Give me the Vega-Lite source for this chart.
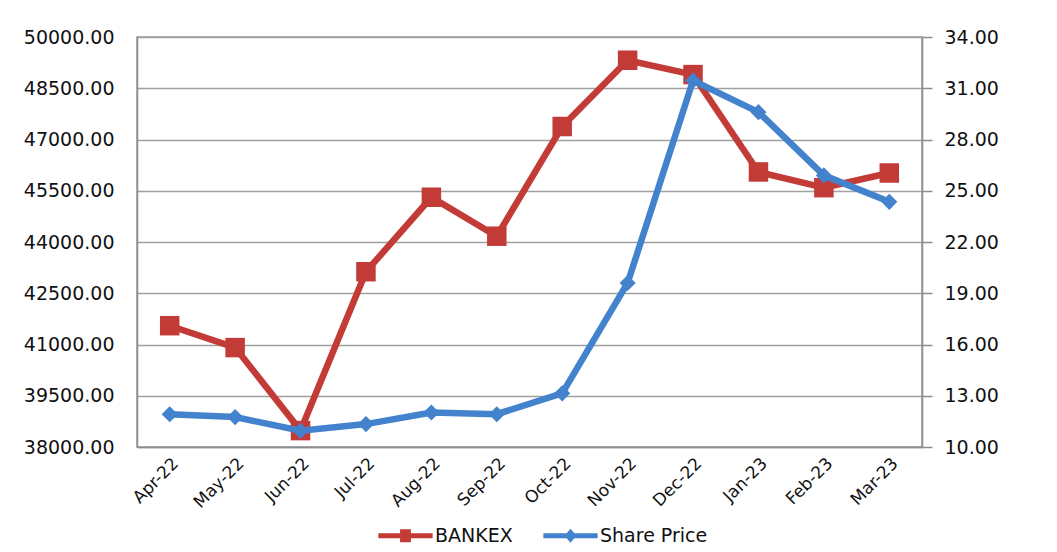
{
  "$schema": "https://vega.github.io/schema/vega-lite/v6.json",
  "width": 785,
  "height": 410,
  "autosize": {"type": "none"},
  "padding": {"left": 137, "top": 37, "right": 135, "bottom": 105},
  "background": "white",
  "config": {
    "font": "DejaVu Sans",
    "view": {"stroke": "#9a9a9a", "strokeWidth": 1.5},
    "axis": {"labelFont": "DejaVu Sans", "labelColor": "#111111", "domainColor": "#8c8c8c", "tickColor": "#8c8c8c", "gridColor": "#a0a0a0", "gridWidth": 1.3}
  },
  "data": {
    "values": [
      {"month": "Apr-22", "series": "BANKEX", "value": 41550},
      {"month": "May-22", "series": "BANKEX", "value": 40910},
      {"month": "Jun-22", "series": "BANKEX", "value": 38480},
      {"month": "Jul-22", "series": "BANKEX", "value": 43130},
      {"month": "Aug-22", "series": "BANKEX", "value": 45310},
      {"month": "Sep-22", "series": "BANKEX", "value": 44170},
      {"month": "Oct-22", "series": "BANKEX", "value": 47380},
      {"month": "Nov-22", "series": "BANKEX", "value": 49320},
      {"month": "Dec-22", "series": "BANKEX", "value": 48900},
      {"month": "Jan-23", "series": "BANKEX", "value": 46050},
      {"month": "Feb-23", "series": "BANKEX", "value": 45590},
      {"month": "Mar-23", "series": "BANKEX", "value": 46020},
      {"month": "Apr-22", "series": "Share Price", "value": 11.92},
      {"month": "May-22", "series": "Share Price", "value": 11.75},
      {"month": "Jun-22", "series": "Share Price", "value": 10.95},
      {"month": "Jul-22", "series": "Share Price", "value": 11.34},
      {"month": "Aug-22", "series": "Share Price", "value": 12.02},
      {"month": "Sep-22", "series": "Share Price", "value": 11.92},
      {"month": "Oct-22", "series": "Share Price", "value": 13.14},
      {"month": "Nov-22", "series": "Share Price", "value": 19.6},
      {"month": "Dec-22", "series": "Share Price", "value": 31.45},
      {"month": "Jan-23", "series": "Share Price", "value": 29.6},
      {"month": "Feb-23", "series": "Share Price", "value": 25.9},
      {"month": "Mar-23", "series": "Share Price", "value": 24.35}
    ]
  },
  "encoding": {
    "x": {
      "field": "month", "type": "ordinal", "sort": null,
      "scale": {"type": "point", "padding": 0.5},
      "axis": {"title": null, "labelAngle": -45, "labelFontSize": 17, "labelColor": "#111111", "ticks": false, "labelPadding": 8, "domainWidth": 1.5}
    },
    "color": {
      "field": "series", "type": "nominal",
      "scale": {"domain": ["BANKEX", "Share Price"], "range": ["#C33B37", "#4382CC"]},
      "legend": {
        "title": null, "orient": "none", "direction": "horizontal",
        "legendX": 241, "legendY": 471,
        "labelFontSize": 19, "labelColor": "#111", "labelFont": "DejaVu Sans",
        "symbolSize": 2950, "columnPadding": 30, "labelOffset": 2,
        "encode": {
          "symbols": {
            "update": {
              "shape": {"signal": "datum.value === 'BANKEX' ? 'M-1,-0.09H1V0.09H-1Z M-0.2,-0.24H0.2V0.24H-0.2Z' : 'M-1,-0.09H1V0.09H-1Z M0,-0.26L0.22,0L0,0.26L-0.22,0Z'"},
              "fill": {"scale": "color", "field": "value"},
              "stroke": {"value": null},
              "strokeWidth": {"value": 0}
            }
          }
        }
      }
    }
  },
  "layer": [
    {
      "transform": [{"filter": "datum.series === 'BANKEX'"}],
      "encoding": {
        "y": {
          "field": "value", "type": "quantitative",
          "scale": {"domain": [38000, 50000], "zero": false, "nice": false},
          "axis": {"title": null, "orient": "left", "values": [38000, 39500, 41000, 42500, 44000, 45500, 47000, 48500, 50000], "format": ".2f", "labelFontSize": 19, "grid": true, "ticks": false, "labelPadding": 23, "domainWidth": 1.5}
        }
      },
      "layer": [
        {"mark": {"type": "line", "strokeWidth": 6.5}},
        {"mark": {"type": "point", "shape": "square", "filled": true, "size": 380, "opacity": 1}}
      ]
    },
    {
      "transform": [{"filter": "datum.series === 'Share Price'"}],
      "encoding": {
        "y": {
          "field": "value", "type": "quantitative",
          "scale": {"domain": [10, 34], "zero": false, "nice": false},
          "axis": {"title": null, "orient": "right", "values": [10, 13, 16, 19, 22, 25, 28, 31, 34], "format": ".2f", "labelFontSize": 19, "grid": false, "ticks": true, "tickSize": 10, "tickWidth": 1.5, "labelPadding": 12, "domainWidth": 1.5}
        }
      },
      "layer": [
        {"mark": {"type": "line", "strokeWidth": 6.5}},
        {"mark": {"type": "point", "shape": "diamond", "filled": true, "size": 260, "opacity": 1}}
      ]
    }
  ],
  "resolve": {"scale": {"y": "independent"}}
}
